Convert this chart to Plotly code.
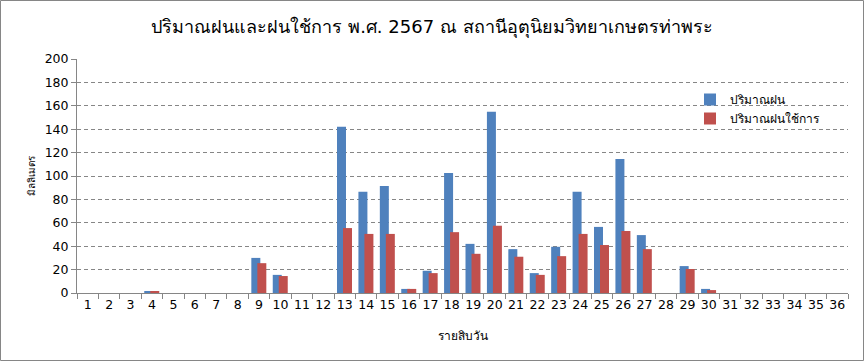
import plotly.graph_objects as go

periods = [str(i) for i in range(1, 37)]
rain = [0, 0, 0, 1, 0, 0, 0, 0, 30, 15.5, 0, 0, 142, 86.5, 91.5, 3.5, 19, 102.5,
        42, 155, 37.5, 17, 39.5, 86.5, 56.5, 114.5, 49.5, 0, 23, 3.5, 0, 0, 0, 0, 0, 0]
eff_rain = [0, 0, 0, 1, 0, 0, 0, 0, 25.5, 14.5, 0, 0, 55.5, 50.5, 50.5, 3.5, 17, 52,
            33.5, 57.5, 31, 15.5, 31.5, 50.5, 41, 53, 37.5, 0, 20.5, 2.5, 0, 0, 0, 0, 0, 0]

title = "ปริมาณฝนและฝนใช้การ พ.ศ. 2567 ณ สถานีอุตุนิยมวิทยาเกษตรท่าพระ"
y_title = "มิลลิเมตร"
x_title = "รายสิบวัน"
names = ["ปริมาณฝน", "ปริมาณฝนใช้การ"]

FONT = "DejaVu Sans, Tahoma, sans-serif"

fig = go.Figure()
fig.add_trace(go.Bar(x=periods, y=rain, name=names[0], marker_color="#4F81BD",
                     width=0.42, offset=-0.36, marker_line_width=0))
fig.add_trace(go.Bar(x=periods, y=eff_rain, name=names[1], marker_color="#C0504D",
                     width=0.42, offset=-0.08, marker_line_width=0))

L, R, T, B = 77, 16, 59, 68
W, H = 864, 361
pw, ph = W - L - R, H - T - B

fig.update_layout(
    width=W, height=H,
    margin=dict(l=L, r=R, t=T, b=B, autoexpand=False),
    barmode="overlay",
    paper_bgcolor="white", plot_bgcolor="white",
    font=dict(family=FONT, size=12, color="black"),
    title=dict(text=title, x=0.5, xanchor="center", y=1 - 27 / H, yanchor="middle",
               font=dict(size=18, family=FONT)),
    legend=dict(x=(690 - L) / pw, y=(293 - 85) / ph, xanchor="left", yanchor="top",
                bgcolor="rgba(0,0,0,0)", font=dict(size=12), itemwidth=30,
                tracegroupgap=2),
    xaxis=dict(type="category", tickson="boundaries", ticks="outside", ticklen=5,
               tickcolor="#868686", showline=True, linecolor="#868686", linewidth=1,
               showgrid=False, tickfont=dict(size=12.5), tickangle=0, automargin=False,
               title=dict(text=x_title, font=dict(size=12), standoff=20),
               range=[-0.5, 35.5]),
    yaxis=dict(range=[0, 200], dtick=20, tick0=0, ticks="outside", ticklen=5,
               tickcolor="#868686", showline=True, linecolor="#868686", linewidth=1,
               showgrid=True, gridcolor="#868686", griddash="4px,3px", gridwidth=1,
               zeroline=False, tickfont=dict(size=12.5), automargin=False,
               title=dict(text=y_title, font=dict(size=10), standoff=7)),
    shapes=[dict(type="rect", xref="paper", yref="paper",
                 x0=(0.5 - L) / pw, x1=(W - 0.5 - L) / pw,
                 y0=-(B - 0.5) / ph, y1=1 + (T - 0.5) / ph,
                 line=dict(color="#868686", width=1), fillcolor="rgba(0,0,0,0)")],
)

fig.write_html("out.html", config={"displayModeBar": False},
               post_script="document.body.style.margin='0';document.body.style.overflow='hidden';")
